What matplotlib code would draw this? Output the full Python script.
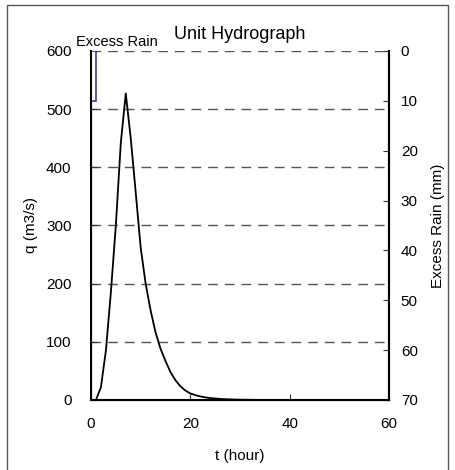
import numpy as np
import matplotlib
matplotlib.use("Agg")
import matplotlib.pyplot as plt
from matplotlib.patches import Rectangle

plt.rcParams['font.family'] = ['Liberation Sans', 'DejaVu Sans']

# hourly unit hydrograph ordinates (m3/s)
t_hours = np.arange(0, 61)
q_ordinates = [0, 0, 22, 85, 185, 300, 442, 527, 450, 357,
               262, 200, 154, 116, 88, 67, 48, 34, 23.5, 16.2,
               11.2, 8.3, 6.1, 4.5, 3.3, 2.5, 1.8, 1.3, 1.0, 0.7,
               0.5, 0.4, 0.3, 0.2, 0.1]
q_ordinates = q_ordinates + [0] * (len(t_hours) - len(q_ordinates))

# excess rainfall hyetograph (mm per hour)
rain_start = [0]
rain_depth = [10]
rain_duration = 1

fig = plt.figure(figsize=(4.55, 4.7), dpi=100)
ax = fig.add_axes([0.2, 0.149, 0.655, 0.7425])

ax.plot(t_hours, q_ordinates, color='black', lw=1.3, zorder=3)
ax.set_xlim(0, 60)
ax.set_ylim(0, 600)
ax.set_xticks([0, 20, 40, 60])
ax.set_yticks(range(0, 601, 100))
ax.yaxis.grid(True, linestyle=(0, (7, 5)), color='#555555', lw=1)
ax.tick_params(direction='in', length=4, labelsize=11, color='#333333')
ax.tick_params(axis='y', pad=14)
ax.tick_params(axis='x', pad=12)
ax.set_xlabel('t (hour)', fontsize=11, labelpad=13)
ax.set_ylabel('q (m3/s)', fontsize=11, labelpad=6)
ax.set_title('Unit Hydrograph', fontsize=13, pad=8.5)
for side in ['left', 'bottom', 'right']:
    ax.spines[side].set_linewidth(1.5)
ax.spines['top'].set_visible(False)

# rainfall on a reversed secondary axis
ax2 = ax.twinx()
ax2.bar(rain_start, rain_depth, width=rain_duration, align='edge',
        facecolor='white', edgecolor='#3c3c96', lw=1.2)
ax2.set_ylim(70, 0)
ax2.set_xlim(0, 60)
ax2.set_yticks(range(0, 71, 10))
ax2.tick_params(direction='in', length=4, labelsize=11, pad=8.5, color='#333333')
ax2.set_ylabel('Excess Rain (mm)', fontsize=11, labelpad=9.5)
ax2.spines['top'].set_visible(False)
ax2.spines['right'].set_linewidth(1.5)

fig.text(117 / 455, 1 - 41.5 / 470, 'Excess Rain', fontsize=10.5,
         ha='center', va='center')

# outer frame around the figure
fig.patches.append(Rectangle((7 / 455, -0.1), 441 / 455, 1.1 - 4.5 / 470,
                             transform=fig.transFigure, fill=False,
                             edgecolor='#555555', lw=1))

fig.savefig('out.png', dpi=100)
